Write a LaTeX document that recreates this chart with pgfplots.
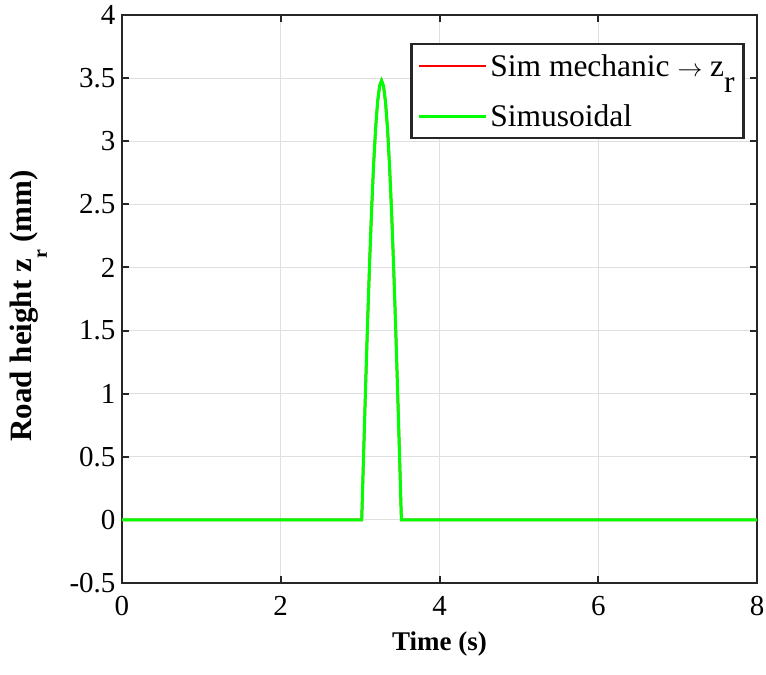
\documentclass[border=0pt]{standalone}
\usepackage{fontspec}
\setmainfont{Liberation Serif}
\usepackage{pgfplots}
\pgfplotsset{compat=1.18}
\definecolor{axc}{HTML}{262626}
\definecolor{grd}{HTML}{DFDFDF}
\newcommand\fs{\fontsize{29bp}{34bp}\selectfont}
\newcommand\fl{\fontsize{27bp}{32bp}\selectfont}
\newcommand\fy{\fontsize{31bp}{36bp}\selectfont}
\newcommand\fg{\fontsize{31.5bp}{37bp}\selectfont}

\pgfplotstableread{
t z
0     0
3.020 0
3.045 0.544
3.070 1.075
3.095 1.580
3.120 2.046
3.145 2.461
3.170 2.815
3.195 3.101
3.220 3.310
3.245 3.437
3.270 3.480
3.295 3.437
3.320 3.310
3.345 3.101
3.370 2.815
3.395 2.461
3.420 2.046
3.445 1.580
3.470 1.075
3.495 0.544
3.520 0
8     0
}\road

\begin{document}
\begin{tikzpicture}
\path[use as bounding box] (-122bp,-92bp) rectangle (644bp,583bp);
\begin{axis}[
    scale only axis,
    width=635bp, height=568bp,
    xmin=0, xmax=8, ymin=-0.5, ymax=4,
    xtick={0,2,4,6,8},
    ytick={-0.5,0,0.5,1,1.5,2,2.5,3,3.5,4},
    /pgf/number format/assume math mode=true,
    tick label style={font=\fs, color=black},
    xticklabel shift=10bp,
    yticklabel shift=3bp,
    tick align=inside,
    major tick length=7bp,
    every tick/.style={axc, line width=2bp},
    axis line style={axc, line width=2bp},
    grid=major,
    major grid style={grd, line width=1bp},
    xlabel={\bfseries Time (s)},
    ylabel={\bfseries Road height z\raisebox{-15bp}{\fontsize{20bp}{21bp}\selectfont r} (mm)},
    xlabel style={font=\fl, at={(axis description cs:0.5,-0.118)}, anchor=base},
    ylabel style={font=\fy, at={(axis description cs:-0.142,0.488)}, anchor=base},
    legend cell align=left,
    legend image code/.code={\draw[#1] (0bp,0bp) -- (67bp,0bp);},
    legend style={font=\fg, draw=axc, line width=2.5bp,
        at={(rel axis cs:0.981,0.9507)}, anchor=north east,
        inner xsep=6bp, inner ysep=7bp, row sep=21bp,
        nodes={inner sep=3bp}},
]
\addplot[red, line width=2.5bp] table[x=t, y=z] {\road};
\addlegendentry{Sim mechanic $\rightarrow$ z\raisebox{-16bp}{r}}
\addplot[green, line width=3bp] table[x=t, y=z] {\road};
\addlegendentry{Simusoidal}
\end{axis}
\end{tikzpicture}
\end{document}
